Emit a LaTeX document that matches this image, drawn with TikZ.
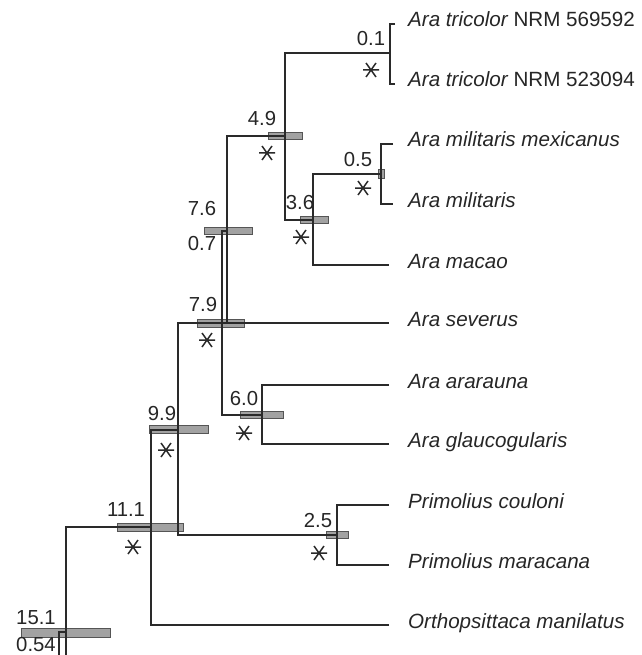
\documentclass[tikz,border=0pt]{standalone}
\usepackage{fontspec}
\setmainfont{Liberation Sans}
\definecolor{linec}{HTML}{2A2A2A}
\definecolor{barfill}{HTML}{A2A2A2}
\definecolor{bardraw}{HTML}{555555}
\definecolor{txt}{HTML}{262626}
\begin{document}
\begin{tikzpicture}[x=1pt,y=-1pt,
  branch/.style={draw=linec,line width=2.2pt},
  hpd/.style={fill=barfill,draw=bardraw,line width=1pt},
  age/.style={font=\fontsize{20.3}{24}\selectfont,text=txt,inner sep=0pt},
  taxon/.style={font=\fontsize{20.6}{24}\selectfont\itshape,text=txt,anchor=base west,inner sep=0pt},
  supp/.pic={\draw[linec,line width=1.5pt]
      (-8,0)--(8,0) (-5,-7)--(5,7) (-5,7)--(5,-7);}
]
\useasboundingbox (0,0) rectangle (641,655);

% internal nodes
\coordinate (r)   at (66,665);
\coordinate (rb)  at (59,665);
\coordinate (rh)  at (59,632);
\coordinate (rj)  at (66,632);
\coordinate (n11) at (151,527);
\coordinate (n99) at (178,430);
\coordinate (n79) at (222,323);
\coordinate (n76) at (227,231);
\coordinate (n60) at (262,415);
\coordinate (n49) at (285,136);
\coordinate (n36) at (313,220);
\coordinate (n05) at (381,174);
\coordinate (n01) at (390,53);
\coordinate (n25) at (337,535);

% tips
\coordinate (tA) at (395,24);
\coordinate (tB) at (395,84);
\coordinate (tC) at (393,144);
\coordinate (tD) at (393,204);
\coordinate (tE) at (389,265);
\coordinate (tF) at (389,323);
\coordinate (tG) at (389,385);
\coordinate (tH) at (389,444);
\coordinate (tI) at (389,505);
\coordinate (tJ) at (389,565);
\coordinate (tK) at (389,625);

% node-age bars
\draw[hpd] (21,628) rectangle (110,637);
\draw[hpd] (117,523) rectangle (183,531);
\draw[hpd] (149,425) rectangle (208,433);
\draw[hpd] (326,531) rectangle (348,538);
\draw[hpd] (197,319) rectangle (244,327);
\draw[hpd] (240,411) rectangle (283,418);
\draw[hpd] (204,227) rectangle (252,234);
\draw[hpd] (268,133) rectangle (302,140);
\draw[hpd] (300,216) rectangle (328,223);
\draw[hpd] (378,170) rectangle (384,178);

% branches
\draw[branch] (r) |- (n11);
\draw[branch] (rb) -- (rh) -- (rj);
\draw[branch] (tK) -| (n11 |- n99) -- (n99);
\draw[branch] (n79) -| (n99 |- n25) -- (n25);
\draw[branch] (n79) -- (tF);
\draw[branch] (n76 |- n79) |- (n49);
\draw[branch] (n76) -| (n79) |- (n60);
\draw[branch] (tG) -| (n60) |- (tH);
\draw[branch] (n01) -| (n49) |- (n36);
\draw[branch] (n05) -| (n36) |- (tE);
\draw[branch] (tC) -| (n05) |- (tD);
\draw[branch] (tA) -| (n01) |- (tB);
\draw[branch] (tI) -| (n25) |- (tJ);

% ages
\node[age] (a01) at (371,39)  {0.1};
\node[age] (a49) at (262,119) {4.9};
\node[age] (a05) at (358,160) {0.5};
\node[age] (a36) at (300,203) {3.6};
\node[age] (a76) at (202,209) {7.6};
\node[age] (a07) at (202,244) {0.7};
\node[age] (a79) at (203,305) {7.9};
\node[age] (a60) at (244,399) {6.0};
\node[age] (a99) at (162,414) {9.9};
\node[age] (a111) at (126,510) {11.1};
\node[age] (a25) at (318,521) {2.5};
\node[age] (a151) at (36,618) {15.1};
\node[age] (a054) at (36,645) {0.54};

% support
\pic at (371,70)  {supp};
\pic at (267,153) {supp};
\pic at (363,188) {supp};
\pic at (301,237) {supp};
\pic at (207,340) {supp};
\pic at (244,433) {supp};
\pic at (166,450) {supp};
\pic at (133,547) {supp};
\pic at (319,553) {supp};

% taxa
\node[taxon] (xA) at (408,27)  {Ara tricolor \upshape NRM 569592};
\node[taxon] (xB) at (408,87)  {Ara tricolor \upshape NRM 523094};
\node[taxon] (xC) at (408,147) {Ara militaris mexicanus};
\node[taxon] (xD) at (408,207) {Ara militaris};
\node[taxon] (xE) at (408,268) {Ara macao};
\node[taxon] (xF) at (408,326) {Ara severus};
\node[taxon] (xG) at (408,388) {Ara ararauna};
\node[taxon] (xH) at (408,447) {Ara glaucogularis};
\node[taxon] (xI) at (408,508) {Primolius couloni};
\node[taxon] (xJ) at (408,568) {Primolius maracana};
\node[taxon] (xK) at (408,628) {Orthopsittaca manilatus};
\end{tikzpicture}
\end{document}
